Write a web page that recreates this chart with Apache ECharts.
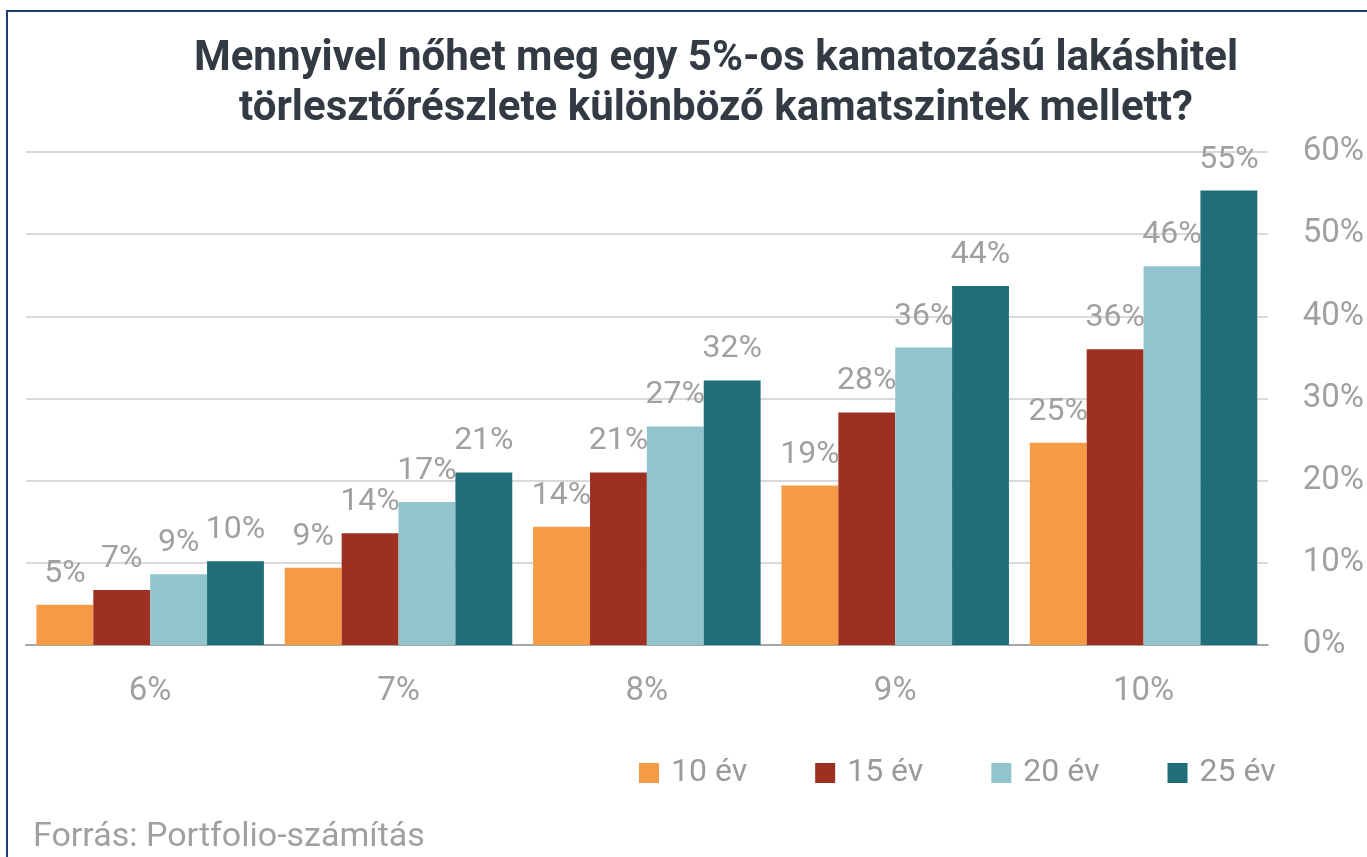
<!DOCTYPE html>
<html>
<head>
<meta charset="utf-8">
<script src="https://cdn.jsdelivr.net/npm/echarts@6/dist/echarts.min.js"></script>
<style>
html,body{margin:0;padding:0;background:#fff;}
#wrap{position:relative;width:1367px;height:857px;overflow:hidden;}
#chart{position:absolute;left:0;top:0;width:1367px;height:857px;}
#frame{position:absolute;left:6px;top:10px;width:1400px;height:900px;border-left:2px solid #1c3a78;border-top:2px solid #1c3a78;pointer-events:none;}
</style>
</head>
<body>
<div id="wrap"><div id="chart"></div><div id="frame"></div></div>
<script>
const categories = ['6%', '7%', '8%', '9%', '10%'];
const seriesNames = ['10 év', '15 év', '20 év', '25 év'];
const y10 = [4.9, 9.4, 14.4, 19.4, 24.6];
const y15 = [6.7, 13.6, 21.0, 28.3, 36.0];
const y20 = [8.6, 17.4, 26.6, 36.2, 46.1];
const y25 = [10.2, 21.0, 32.2, 43.7, 55.3];
const colors = ['#f59a45', '#9e3022', '#92c4ce', '#1f6e7a'];
const yTicks = {min: 0, max: 60, interval: 10};

const chart = echarts.init(document.getElementById('chart'));
const labelStyle = {
  show: true, position: 'top', distance: 15,
  fontFamily: 'Roboto', fontSize: 32, color: '#a0a0a0',
  formatter: p => Math.round(p.value) + '%'
};
const allData = [y10, y15, y20, y25];
chart.setOption({
  animation: false,
  title: {
    text: 'Mennyivel nőhet meg egy 5%-os kamatozású lakáshitel\ntörlesztőrészlete különböző kamatszintek mellett?',
    left: 711, textAlign: 'center', top: 29,
    textStyle: {fontFamily: 'Roboto', fontWeight: 'bold', fontSize: 42, lineHeight: 50, color: '#333a44'}
  },
  grid: {left: 26, right: 99, top: 152, bottom: 212},
  legend: {
    data: seriesNames, left: 634, top: 752,
    itemWidth: 20, itemHeight: 20, itemGap: 68,
    icon: 'rect',
    textStyle: {fontFamily: 'Roboto', fontSize: 32, color: '#9a9a9a', padding: [0, 0, 0, 7]}
  },
  xAxis: {
    type: 'category', data: categories,
    axisLine: {lineStyle: {color: '#a6a6a6', width: 2}},
    axisTick: {show: false},
    axisLabel: {fontFamily: 'Roboto', fontSize: 33, color: '#a0a0a0', margin: 30}
  },
  yAxis: {
    type: 'value', position: 'right', min: yTicks.min, max: yTicks.max, interval: yTicks.interval,
    axisLine: {show: false}, axisTick: {show: false},
    splitLine: {lineStyle: {color: '#d9d9d9', width: 2}},
    axisLabel: {fontFamily: 'Roboto', fontSize: 33, color: '#a0a0a0', margin: 35, formatter: '{value}%'}
  },
  series: seriesNames.map((n, i) => ({
    name: n, type: 'bar', data: allData[i],
    barGap: '0%', barCategoryGap: '8.4%',
    itemStyle: {color: colors[i]},
    label: labelStyle
  })),
  graphic: [{
    type: 'text', left: 33, top: 820,
    style: {text: 'Forrás: Portfolio-számítás', fontFamily: 'Roboto', fontSize: 34, fill: '#a0a0a0'}
  }]
});
</script>
</body>
</html>
